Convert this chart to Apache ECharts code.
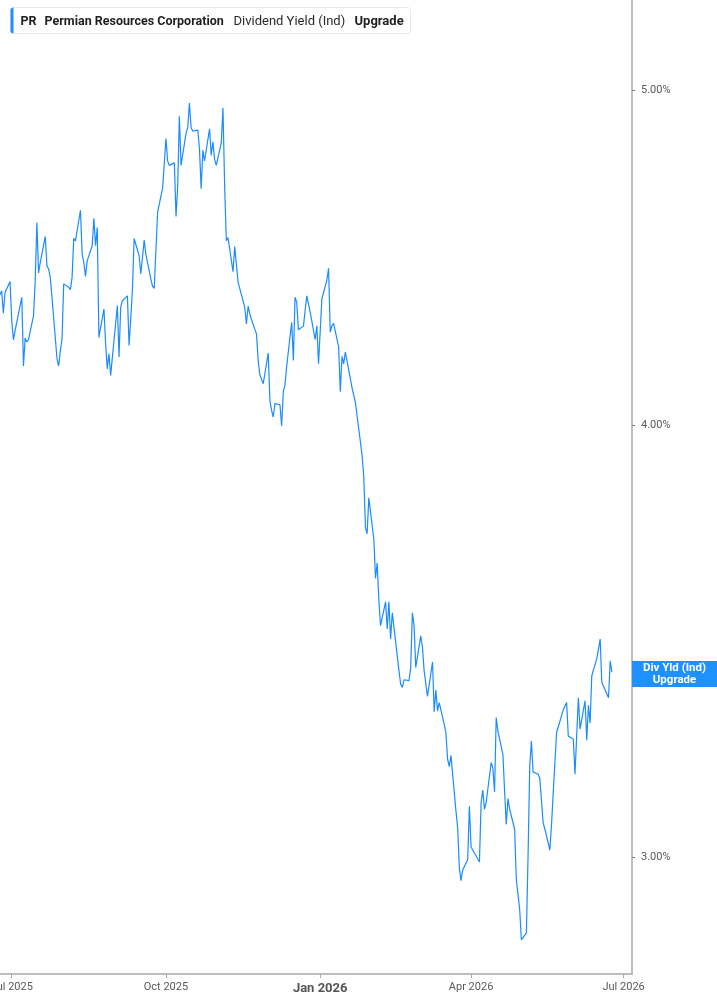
<!DOCTYPE html>
<html>
<head>
<meta charset="utf-8">
<script src="https://cdn.jsdelivr.net/npm/echarts@6/dist/echarts.min.js"></script>
<style>
html,body{margin:0;padding:0;background:#fff;}
#chart{width:717px;height:1005px;}
</style>
</head>
<body>
<div id="chart"></div>
<script>
const dates = [
'2025-06-24','2025-06-25','2025-06-26','2025-06-27','2025-06-30',
'2025-07-01','2025-07-02','2025-07-03','2025-07-07','2025-07-08','2025-07-09','2025-07-10','2025-07-11','2025-07-14','2025-07-15','2025-07-16','2025-07-17','2025-07-18','2025-07-21','2025-07-22','2025-07-23','2025-07-24','2025-07-25','2025-07-28','2025-07-29','2025-07-30','2025-07-31',
'2025-08-01','2025-08-04','2025-08-05','2025-08-06','2025-08-07','2025-08-08','2025-08-11','2025-08-12','2025-08-13','2025-08-14','2025-08-15','2025-08-18','2025-08-19','2025-08-20','2025-08-21','2025-08-22','2025-08-25','2025-08-26','2025-08-27','2025-08-28','2025-08-29',
'2025-09-02','2025-09-03','2025-09-04','2025-09-05','2025-09-08','2025-09-09','2025-09-10','2025-09-11','2025-09-12','2025-09-15','2025-09-16','2025-09-17','2025-09-18','2025-09-19','2025-09-22','2025-09-23','2025-09-24','2025-09-25','2025-09-26','2025-09-29','2025-09-30',
'2025-10-01','2025-10-02','2025-10-03','2025-10-06','2025-10-07','2025-10-08','2025-10-09','2025-10-10','2025-10-13','2025-10-14','2025-10-15','2025-10-16','2025-10-17','2025-10-20','2025-10-21','2025-10-22','2025-10-23','2025-10-24','2025-10-27','2025-10-28','2025-10-29','2025-10-30','2025-10-31',
'2025-11-03','2025-11-04','2025-11-05','2025-11-06','2025-11-07','2025-11-10','2025-11-11','2025-11-12','2025-11-13','2025-11-14','2025-11-17','2025-11-18','2025-11-19','2025-11-20','2025-11-21','2025-11-24','2025-11-25','2025-11-26','2025-11-28',
'2025-12-01','2025-12-02','2025-12-03','2025-12-04','2025-12-05','2025-12-08','2025-12-09','2025-12-10','2025-12-11','2025-12-12','2025-12-15','2025-12-16','2025-12-17','2025-12-18','2025-12-19','2025-12-22','2025-12-23','2025-12-24','2025-12-26','2025-12-29','2025-12-30','2025-12-31',
'2026-01-02','2026-01-05','2026-01-06','2026-01-07','2026-01-08','2026-01-09','2026-01-12','2026-01-13','2026-01-14','2026-01-15','2026-01-16','2026-01-20','2026-01-21','2026-01-22','2026-01-23','2026-01-26','2026-01-27','2026-01-28','2026-01-29','2026-01-30',
'2026-02-02','2026-02-03','2026-02-04','2026-02-05','2026-02-06','2026-02-09','2026-02-10','2026-02-11','2026-02-12','2026-02-13','2026-02-17','2026-02-18','2026-02-19','2026-02-20','2026-02-23','2026-02-24','2026-02-25','2026-02-26','2026-02-27',
'2026-03-02','2026-03-03','2026-03-04','2026-03-05','2026-03-06','2026-03-09','2026-03-10','2026-03-11','2026-03-12','2026-03-13','2026-03-16','2026-03-17','2026-03-18','2026-03-19','2026-03-20','2026-03-23','2026-03-24','2026-03-25','2026-03-26','2026-03-27','2026-03-30','2026-03-31',
'2026-04-01','2026-04-02','2026-04-06','2026-04-07','2026-04-08','2026-04-09','2026-04-10','2026-04-13','2026-04-14','2026-04-15','2026-04-16','2026-04-17','2026-04-20','2026-04-21','2026-04-22','2026-04-23','2026-04-24','2026-04-27','2026-04-28','2026-04-29','2026-04-30',
'2026-05-01','2026-05-04','2026-05-05','2026-05-06','2026-05-07','2026-05-08','2026-05-11','2026-05-12','2026-05-13','2026-05-14','2026-05-15','2026-05-18','2026-05-19','2026-05-20','2026-05-21','2026-05-22','2026-05-26','2026-05-27','2026-05-28','2026-05-29',
'2026-06-01','2026-06-02','2026-06-03','2026-06-04','2026-06-05','2026-06-08','2026-06-09','2026-06-10','2026-06-11','2026-06-12','2026-06-15','2026-06-16','2026-06-17','2026-06-18','2026-06-22','2026-06-23','2026-06-24'
];

const yieldValues = [
4.364,4.376,4.311,4.371,4.403,4.290,4.235,4.261,4.357,4.162,
4.240,4.229,4.236,4.304,4.405,4.579,4.428,4.459,4.537,4.449,
4.440,4.415,4.357,4.182,4.162,4.205,4.238,4.396,4.386,4.379,
4.415,4.531,4.524,4.617,4.484,4.459,4.418,4.464,4.509,4.592,
4.509,4.564,
4.242,4.323,4.224,4.154,4.196,4.136,4.333,4.187,4.328,4.347,
4.361,4.219,4.295,4.381,4.531,4.479,4.425,4.420,4.526,4.484,
4.410,4.389,4.383,4.386,4.610,4.686,4.684,4.843,4.771,4.757,
4.765,4.598,4.692,4.915,4.757,4.861,4.878,4.959,4.878,4.867,
4.870,4.808,4.684,4.805,4.771,4.874,4.789,4.832,4.776,4.757,
4.829,4.943,4.692,4.524,4.534,4.432,4.507,4.504,4.402,4.383,
4.328,4.280,4.331,4.309,4.293,4.252,4.177,4.138,4.113,4.198,
4.068,4.041,4.023,4.059,4.056,3.999,4.091,4.110,4.161,4.285,
4.177,4.357,4.342,4.264,4.274,4.318,4.361,4.315,4.236,4.275,
4.168,4.352,4.408,4.442,4.257,4.275,4.282,4.215,4.091,4.189,
4.168,4.201,4.102,4.107,4.062,4.065,3.921,3.865,3.738,3.722,
3.812,3.709,3.613,3.650,3.560,3.501,3.557,3.493,3.557,3.470,
3.531,3.397,3.367,3.360,3.377,3.375,3.405,3.531,3.501,3.405,
3.477,3.451,3.397,3.394,3.340,3.417,3.306,3.354,3.308,3.326,
3.278,3.260,3.203,3.187,3.211,3.094,3.060,2.979,2.954,2.975,
2.996,3.104,3.021,3.025,2.991,3.112,3.138,3.098,3.112,3.196,
3.184,3.134,3.293,3.264,3.213,3.136,3.067,3.120,3.098,3.057,
2.956,2.958,2.898,2.840,2.853,3.003,3.188,3.242,3.176,3.171,
3.162,3.166,3.070,3.058,3.015,3.067,3.131,3.131,3.260,3.310,
3.313,3.326,3.253,3.246,3.171,3.173,3.337,3.268,3.330,3.244,
3.320,3.281,3.386,3.425,3.447,3.470,3.371,3.337,3.420,3.394
];

const xTickDates = ['2025-07-01','2025-10-01','2026-01-01','2026-04-01','2026-07-01'];
const xTickLabels = ['Jul 2025','Oct 2025','Jan 2026','Apr 2026','Jul 2026'];
const xTickBold = [false,false,true,false,false];
const xRange = ['2025-06-24','2026-07-06'];
const yTickValues = [3,4,5];
const yTickLabels = ['3.00%','4.00%','5.00%'];
const headerTicker = 'PR';
const headerName = 'Permian Resources Corporation';
const headerMetric = 'Dividend Yield (Ind)';
const headerAction = 'Upgrade';
const endLabelLines = ['Div Yld (Ind)','Upgrade'];

const toTime = d => echarts.number.parseDate(d).getTime();
const chart = echarts.init(document.getElementById('chart'), null, {renderer:'canvas'});
const seriesData = dates.map((d,i)=>[toTime(d), yieldValues[i]]);
const lastValue = yieldValues[yieldValues.length-1];
const xTickTimes = xTickDates.map(toTime);

const FONT = 'Roboto, "Noto Sans", sans-serif';
const option = {
  animation:false,
  backgroundColor:'#fff',
  grid:{left:0,right:85,top:0,bottom:31,containLabel:false,outerBoundsMode:'none'},
  xAxis:{
    type:'value',
    min:toTime(xRange[0]),
    max:toTime(xRange[1]),
    axisLine:{show:true,onZero:false,lineStyle:{color:'#bdbdbd',width:2}},
    axisTick:{show:true,length:4,lineStyle:{color:'#aaa',width:1},customValues:xTickTimes},
    splitLine:{show:false},
    axisLabel:{
      customValues:xTickTimes,
      margin:8,
      color:'#5a5a5a',
      fontFamily:FONT,
      fontSize:11,
      hideOverlap:false,
      formatter:function(v){
        let idx = 0, best = Infinity;
        xTickTimes.forEach((tt,i)=>{const d=Math.abs(tt-v); if(d<best){best=d;idx=i;}});
        return xTickBold[idx] ? '{b|'+xTickLabels[idx]+'}' : xTickLabels[idx];
      },
      rich:{b:{fontWeight:'bold',fontSize:13,color:'#555',fontFamily:FONT}}
    }
  },
  yAxis:{
    type:'log',
    logBase:10,
    position:'right',
    min:2.776,
    max:5.311,
    axisLine:{show:true,lineStyle:{color:'#bdbdbd',width:2}},
    axisTick:{show:true,length:3,inside:false,lineStyle:{color:'#777',width:1},customValues:yTickValues},
    splitLine:{show:false},
    axisLabel:{
      customValues:yTickValues,
      margin:9,
      color:'#5a5a5a',
      fontFamily:FONT,
      fontSize:11,
      padding:[4,0,0,0],
      formatter:function(v){
        let idx=0,best=Infinity;
        yTickValues.forEach((tv,i)=>{const d=Math.abs(tv-v); if(d<best){best=d;idx=i;}});
        return yTickLabels[idx];
      }
    }
  },
  series:[{
    type:'line',
    data:seriesData,
    showSymbol:false,
    symbol:'none',
    lineStyle:{color:'#1a8cff',width:1.2},
    itemStyle:{color:'#1a8cff'},
    clip:true,
    markLine:{
      silent:true,
      symbol:['none','none'],
      animation:false,
      lineStyle:{color:'rgba(0,0,0,0)',width:1,type:'solid'},
      emphasis:{disabled:true},
      label:{
        show:true,
        position:'end',
        distance:0,
        formatter:'{a|'+endLabelLines[0]+'}\n{a|'+endLabelLines[1]+'}',
        backgroundColor:'#1e90ff',
        padding:[1,0,1,0],
        rich:{a:{color:'#fff',fontWeight:'bold',fontSize:11.5,lineHeight:12,align:'center',width:85,fontFamily:FONT}}
      },
      data:[{yAxis:lastValue}]
    }
  }],
  graphic:[{
    type:'group',
    left:10,
    top:7,
    children:[
      {type:'rect',shape:{x:0,y:0,width:400,height:26,r:3},style:{fill:'#fff',stroke:'#e8e8e8',lineWidth:1}},
      {type:'rect',shape:{x:0,y:0,width:3,height:26,r:[3,0,0,3]},style:{fill:'#1e90ff'}},
      {type:'text',x:10,y:14,style:{text:headerTicker,font:'bold 12.5px '+FONT,fill:'#1f1f1f',verticalAlign:'middle'}},
      {type:'text',x:34,y:14,style:{text:headerName,font:'bold 12.5px '+FONT,fill:'#1f1f1f',verticalAlign:'middle'}},
      {type:'text',x:223,y:14,style:{text:headerMetric,font:'13px '+FONT,fill:'#2a2a2a',verticalAlign:'middle'}},
      {type:'text',x:344,y:14,style:{text:headerAction,font:'bold 13px '+FONT,fill:'#1f1f1f',verticalAlign:'middle'}}
    ]
  }]
};
chart.setOption(option);
</script>
</body>
</html>
